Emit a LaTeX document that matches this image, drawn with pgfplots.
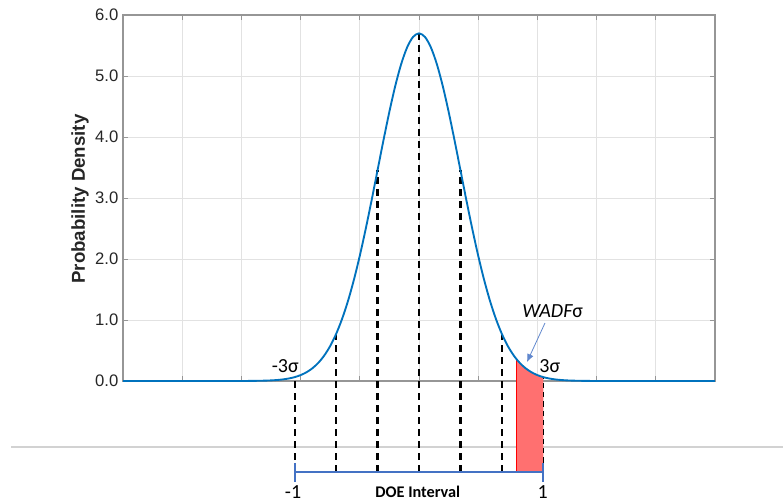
\documentclass[border=0pt]{standalone}
\usepackage{fontspec}
\setmainfont{Liberation Sans}
\newfontfamily\calibri{Carlito}
\usepackage{pgfplots}
\pgfplotsset{compat=1.18}
\usetikzlibrary{arrows.meta}
\definecolor{mblue}{RGB}{0,114,189}
\definecolor{doeblue}{RGB}{68,114,196}
\definecolor{redfill}{RGB}{255,112,112}
\definecolor{ticklab}{RGB}{38,38,38}
\definecolor{axgray}{RGB}{150,150,150}
\definecolor{gridgray}{RGB}{226,226,226}
\begin{document}
\begin{tikzpicture}
\begin{axis}[
  scale only axis, width=444pt, height=274.5pt,
  xmin=0, xmax=1, ymin=0, ymax=6,
  xtick={0,0.1,0.2,0.3,0.4,0.5,0.6,0.7,0.8,0.9,1},
  xticklabels={},
  ytick={0,1,2,3,4,5,6},
  yticklabel style={/pgf/number format/.cd, fixed, fixed zerofill, precision=1, assume math mode=true},
  tick align=inside,
  xtick pos=both, ytick pos=both,
  yticklabel pos=left,
  major tick length=4pt,
  axis line style={axgray, line width=0.8pt},
  major tick style={axgray, line width=0.6pt},
  grid=major,
  major grid style={gridgray, line width=0.6pt},
  tick label style={font=\fontsize{12.5}{14}\selectfont, text=ticklab},
  ylabel={Probability Density},
  ylabel style={font=\fontsize{14}{16}\selectfont\bfseries, text=ticklab, at={(axis description cs:-0.0726,0.497)}, anchor=center},
  clip=false,
]
% grey separator line below the plot
\addplot[gray!35, line width=0.8pt] coordinates {(-0.189,-1.082) (1.115,-1.082)};
% shaded WADF region
\addplot[fill=redfill, draw=none] coordinates {(0.664,-1.49) (0.664,0.366) (0.67,0.2986) (0.68,0.2089) (0.69,0.1432) (0.70,0.0962) (0.71,0.0633) (0.71,-1.49)} -- cycle;
\addplot[red, line width=0.8pt] coordinates {(0.664,-1.49) (0.664,0.366)};
% dashed sigma lines
\addplot[black, line width=1.6pt, dash pattern=on 5.5pt off 3.5pt] coordinates {(0.29,-1.49) (0.29,0.0633)};
\addplot[black, line width=1.6pt, dash pattern=on 5.5pt off 3.5pt] coordinates {(0.36,-1.49) (0.36,0.7713)};
\addplot[black, line width=1.6pt, dash pattern=on 5.5pt off 3.5pt] coordinates {(0.43,-1.49) (0.43,3.457)};
\addplot[black, line width=1.6pt, dash pattern=on 5.5pt off 3.5pt] coordinates {(0.50,-1.49) (0.50,5.699)};
\addplot[black, line width=1.6pt, dash pattern=on 5.5pt off 3.5pt] coordinates {(0.57,-1.49) (0.57,3.457)};
\addplot[black, line width=1.6pt, dash pattern=on 5.5pt off 3.5pt] coordinates {(0.64,-1.49) (0.64,0.7713)};
\addplot[black, line width=1.2pt, dash pattern=on 4pt off 3pt] coordinates {(0.71,-1.49) (0.71,0.0633)};
% normal density
\addplot[mblue, line width=1.4pt, smooth] coordinates {
(0,0) (0.1,0) (0.2,0.0006) (0.22,0.0019) (0.24,0.0058) (0.25,0.0097) (0.26,0.0160) (0.27,0.0258) (0.28,0.0408) (0.29,0.0633)
(0.30,0.0962) (0.31,0.1432) (0.32,0.2089) (0.33,0.2986) (0.34,0.4181) (0.35,0.5737) (0.36,0.7713) (0.37,1.016) (0.38,1.311) (0.39,1.658)
(0.40,2.054) (0.41,2.494) (0.42,2.966) (0.43,3.457) (0.44,3.947) (0.45,4.416) (0.46,4.841) (0.47,5.199) (0.48,5.471) (0.49,5.641)
(0.50,5.699)
(0.51,5.641) (0.52,5.471) (0.53,5.199) (0.54,4.841) (0.55,4.416) (0.56,3.947) (0.57,3.457) (0.58,2.966) (0.59,2.494) (0.60,2.054)
(0.61,1.658) (0.62,1.311) (0.63,1.016) (0.64,0.7713) (0.65,0.5737) (0.66,0.4181) (0.67,0.2986) (0.68,0.2089) (0.69,0.1432) (0.70,0.0962)
(0.71,0.0633) (0.72,0.0408) (0.73,0.0258) (0.74,0.0160) (0.75,0.0097) (0.76,0.0058) (0.78,0.0019) (0.8,0.0006) (0.9,0) (1,0)
};
% DOE interval
\addplot[doeblue, line width=2pt] coordinates {(0.29,-1.49) (0.71,-1.49)};
\addplot[doeblue, line width=1.5pt] coordinates {(0.29,-1.344) (0.29,-1.656)};
\addplot[doeblue, line width=1.5pt] coordinates {(0.71,-1.344) (0.71,-1.656)};
% annotations
\node[font=\calibri\fontsize{15}{17}\selectfont] at (axis cs:0.274,0.246) {-3σ};
\node[font=\calibri\fontsize{15}{17}\selectfont] at (axis cs:0.721,0.246) {3σ};
\node[font=\calibri\fontsize{15}{17}\selectfont] at (axis cs:0.726,1.15) {\itshape WADF\upshape σ};
\draw[-{Latex[length=6pt,width=5pt]}, doeblue!85, line width=0.6pt] (axis cs:0.7128,0.95) -- (axis cs:0.6824,0.31);
\node[font=\calibri\fontsize{15}{17}\selectfont, inner sep=0pt] at (axis cs:0.2872,-1.82) {-1};
\node[font=\calibri\fontsize{15}{17}\selectfont, inner sep=0pt] at (axis cs:0.709,-1.82) {1};
\node[font=\calibri\fontsize{12.2}{14}\selectfont\bfseries, inner sep=0pt] at (axis cs:0.498,-1.82) {DOE Interval};
\coordinate (BL) at (axis cs:-0.2078,-2.016);
\coordinate (TR) at (axis cs:1.1149,6.246);
\end{axis}
\pgfresetboundingbox
\path[use as bounding box] (BL) rectangle (TR);
\end{tikzpicture}
\end{document}
